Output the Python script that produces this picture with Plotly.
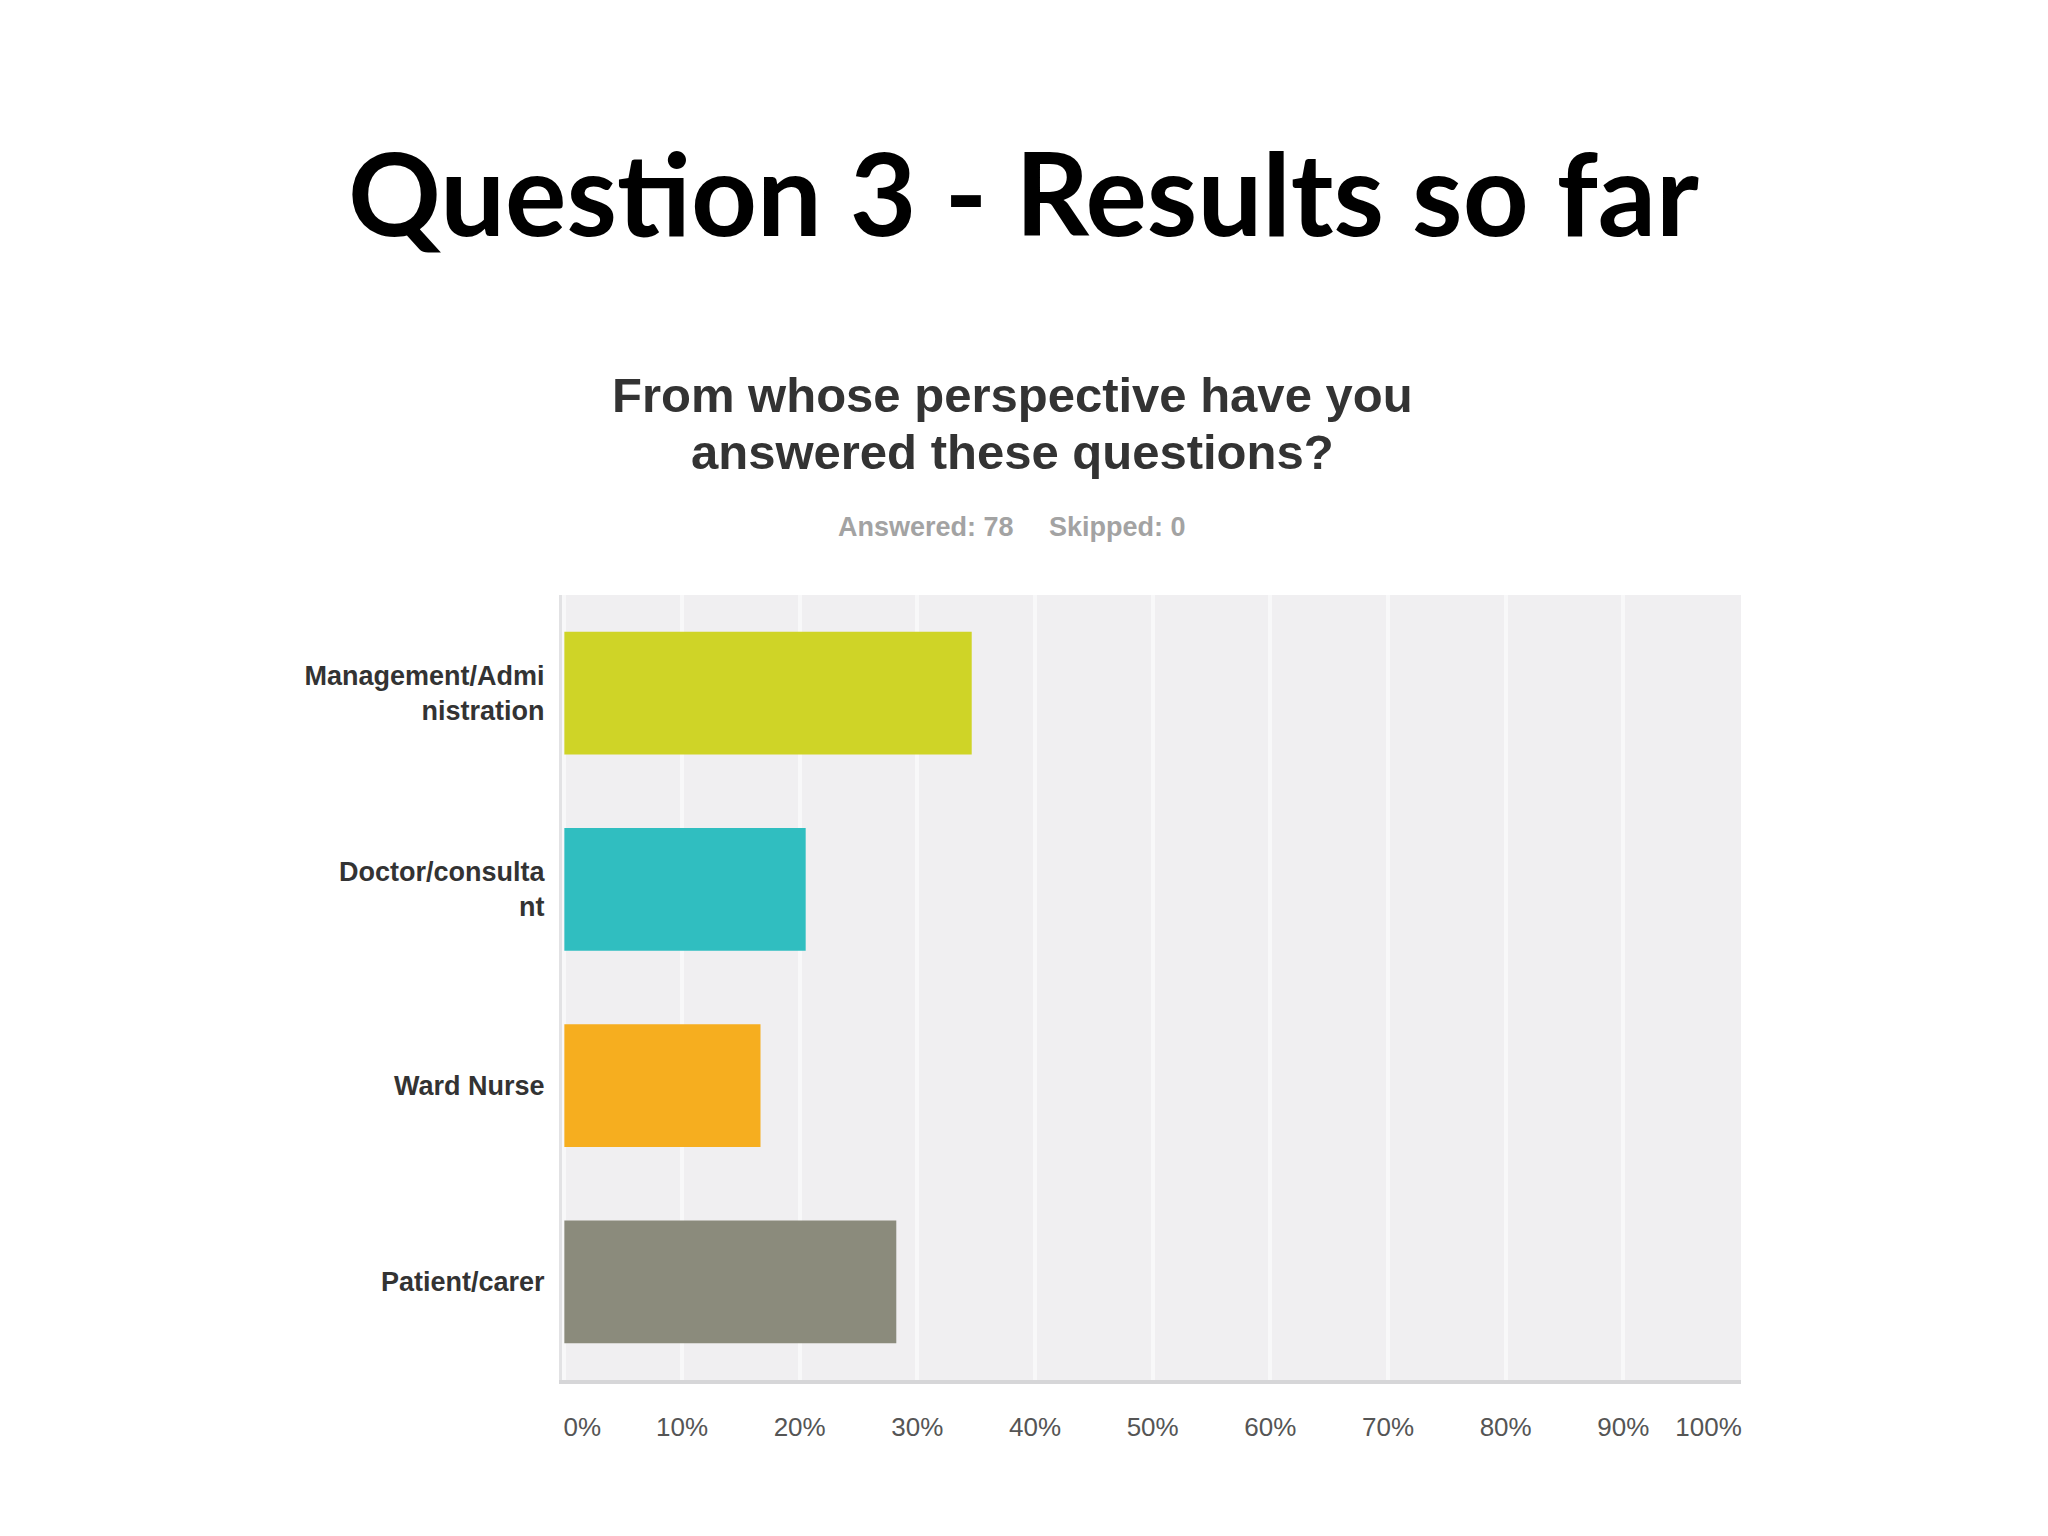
import plotly.graph_objects as go

categories = ["Management/Admi<br>nistration", "Doctor/consulta<br>nt", "Ward Nurse", "Patient/carer"]
values = [34.62, 20.51, 16.67, 28.21]
colors = ["#cfd427", "#30bec0", "#f6ae1f", "#8b8b7c"]
tick_vals = [0, 10, 20, 30, 40, 50, 60, 70, 80, 90, 100]
tick_text = ["\u00a0" * 5 + "0%", "10%", "20%", "30%", "40%", "50%", "60%", "70%", "80%", "90%",
             "100%" + "\u00a0" * 9]

title_text = "Question 3 - Results so far"
question_lines = ["From whose perspective have you", "answered these questions?"]
answered_text = "Answered: 78"
skipped_text = "Skipped: 0"

fig = go.Figure(go.Bar(
    x=values, y=categories, orientation="h",
    marker=dict(color=colors, line=dict(width=0)),
    hoverinfo="skip",
))

W, H = 2048, 1536
fig.update_layout(
    width=W, height=H,
    margin=dict(l=0, r=0, t=0, b=0),
    paper_bgcolor="white",
    plot_bgcolor="#f0eff1",
    showlegend=False,
    bargap=0.375,
    xaxis=dict(
        domain=[554 / W, 1733 / W],
        range=[-0.2, 100],
        tickvals=tick_vals, ticktext=tick_text,
        showgrid=True, gridcolor="#f8f8f9", gridwidth=4,
        zeroline=False,
        showline=True, linecolor="#d6d6d8", linewidth=4,
        ticks="", ticklabelstandoff=21,
        tickfont=dict(family="Liberation Sans, Arial", size=26, color="#555555"),
        automargin=False,
        fixedrange=True,
    ),
    yaxis=dict(
        domain=[1 - 1372 / H, 1 - 587 / H],
        autorange="reversed",
        showgrid=False, zeroline=False,
        showline=True, linecolor="#e2e2e4", linewidth=3,
        ticks="", ticklabelstandoff=9,
        tickfont=dict(family="Liberation Sans, Arial", size=27, color="#333333", weight="bold"),
        automargin=False,
        fixedrange=True,
    ),
)

fig.add_annotation(text="<b>%s</b>" % title_text, xref="paper", yref="paper",
                   x=1015 / W, y=1 - 183 / H, xanchor="center", yanchor="middle",
                   showarrow=False,
                   font=dict(family="Lato, Open Sans", size=115, color="#000000"))
for i, line in enumerate(question_lines):
    fig.add_annotation(text="<b>%s</b>" % line, xref="paper", yref="paper",
                       x=1004 / W, y=1 - (387 + 57 * i) / H, xanchor="center", yanchor="middle",
                       showarrow=False,
                       font=dict(family="Liberation Sans, Arial", size=49, color="#333333"))
fig.add_annotation(text="<b>%s</b>" % answered_text, xref="paper", yref="paper",
                   x=918 / W, y=1 - 519 / H, xanchor="center", yanchor="middle",
                   showarrow=False,
                   font=dict(family="Liberation Sans, Arial", size=27, color="#a3a3a3"))
fig.add_annotation(text="<b>%s</b>" % skipped_text, xref="paper", yref="paper",
                   x=1109 / W, y=1 - 519 / H, xanchor="center", yanchor="middle",
                   showarrow=False,
                   font=dict(family="Liberation Sans, Arial", size=27, color="#a3a3a3"))

fig.write_html("out.html", config={"displayModeBar": False})
